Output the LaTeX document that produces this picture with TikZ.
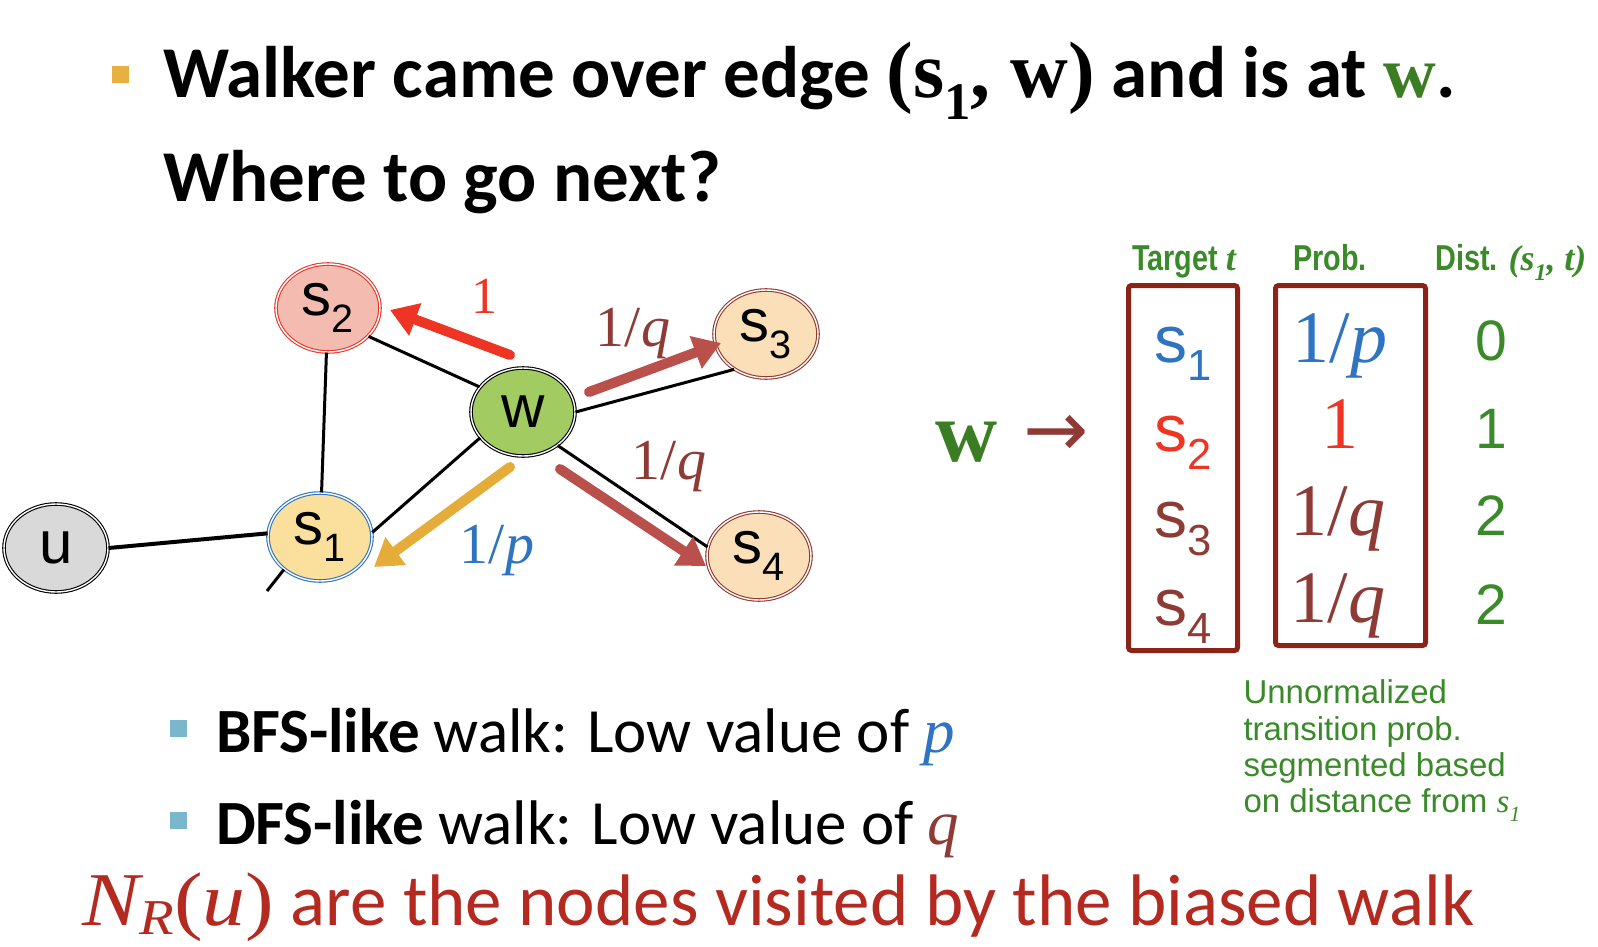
\RequirePackage{fix-cm}
\documentclass[tikz,border=0pt]{standalone}
\usepackage{fontspec}
\usepackage{graphicx}
\setmainfont{Carlito}
\newfontfamily\arialf{Liberation Sans}
\newfontfamily\narrowf[FakeStretch=0.8]{Liberation Sans}
\newfontfamily\serifbf{Liberation Serif}
\newfontfamily\dejavu{DejaVu Sans}
\usetikzlibrary{shapes.geometric,arrows.meta}
\definecolor{tgreen}{HTML}{3A8A2A}
\definecolor{twgreen}{HTML}{3B7D23}
\definecolor{tblue}{HTML}{2E74C0}
\definecolor{tred}{HTML}{EE3524}
\definecolor{tbrown}{HTML}{8E3B36}
\definecolor{boxbrown}{HTML}{8B2317}
\definecolor{arrbrown}{HTML}{B9504B}
\definecolor{arrorange}{HTML}{E6AC3A}
\definecolor{bulor}{HTML}{E8B040}
\definecolor{bulteal}{HTML}{7AB6CC}
\definecolor{darkred}{HTML}{B42A20}
\definecolor{sredfill}{HTML}{F4BCB0}
\definecolor{sredline}{HTML}{E8362A}
\definecolor{wfill}{HTML}{A2CC62}
\definecolor{peach}{HTML}{FADFB8}
\definecolor{peachline}{HTML}{933A32}
\definecolor{yfill}{HTML}{FAE09C}
\definecolor{ufill}{HTML}{D9D9D9}
\newcommand\ssub[1]{\raisebox{-0.28em}{\scalebox{0.66}{#1}}}
\newcommand\msub[1]{\raisebox{-0.13em}{\scalebox{0.66}{#1}}}
\newcommand\frc[1]{{\serifbf 1/\textit{#1}}}
\begin{document}
\begin{tikzpicture}[x=1pt,y=-1pt,
  gnode/.style={ellipse, minimum width=104pt, minimum height=88pt, inner sep=0pt,
    double=white, double distance=1.4pt, line width=1.1pt,
    font=\arialf\fontsize{60}{64}\selectfont},
  gedge/.style={line width=3pt, black},
  carrow/.style={line width=10pt, line cap=round, -{Triangle[length=27pt,width=33pt]}},
  tbox/.style={draw=boxbrown, line width=5pt, rounded corners=3pt, inner sep=0pt},
  bullet/.style={inner sep=0pt, minimum width=17pt, minimum height=17pt},
  tlabel/.style={anchor=base, font=\arialf\fontsize{66}{70}\selectfont},
  tprob/.style={anchor=base, font=\fontsize{74}{80}\selectfont},
  tdist/.style={anchor=base, font=\arialf\fontsize{57}{64}\selectfont, text=tgreen},
  thead/.style={anchor=base, font=\narrowf\bfseries\fontsize{36}{40}\selectfont, text=tgreen},
  note/.style={anchor=base west, font=\arialf\fontsize{33}{37}\selectfont, text=tgreen},
  elabel/.style={font=\fontsize{58}{60}\selectfont}
]
\useasboundingbox (0,0) rectangle (1598,946);

% title
\node[bullet, fill=bulor] (b0) at (120,74) {};
\node[anchor=base west, inner sep=0pt, font=\fontsize{73}{80}\selectfont\bfseries] (title1) at (163,97)
  {Walker came over edge {\serifbf\fontsize{80}{80}\selectfont(s\ssub{1}, w)} and is at {\serifbf\color{twgreen}w}.};
\node[anchor=base west, inner sep=0pt, font=\fontsize{73}{80}\selectfont\bfseries] (title2) at (163,201)
  {Where to go next?};

% graph nodes
\node[gnode, draw=sredline, fill=sredfill] (s2) at (328,308) {s\ssub{2}};
\node[gnode, draw=black, fill=wfill] (w) at (523,412) {w};
\node[gnode, draw=peachline, fill=peach] (s3) at (766,334) {s\ssub{3}};
\node[gnode, draw=peachline, fill=peach] (s4) at (759,556) {s\ssub{4}};
\node[gnode, draw=tblue, fill=yfill] (s1) at (320,537) {s\ssub{1}};
\node[gnode, draw=black, fill=ufill] (u) at (56,548) {u};
\coordinate (stub) at (267,591);

% edges
\draw[gedge] (s2.-35) -- (w.150);
\draw[gedge] (s2) -- (s1);
\draw[gedge] (w.211) -- (s1.5);
\draw[gedge] (w.east) -- (s3.228);
\draw[gedge] (w.-44) -- (s4.170);
\draw[gedge, line width=4pt] (u.east) -- (s1.176);
\draw[gedge] (s1.222) -- (stub);

% colored arrows
\coordinate (ra1) at (510,355); \coordinate (ra2) at (390,310);
\coordinate (ba1) at (589,392); \coordinate (ba2) at (721,343);
\coordinate (oa1) at (510,467); \coordinate (oa2) at (374,567);
\coordinate (da1) at (560,469); \coordinate (da2) at (706,566);
\draw[carrow, tred] (ra1) -- (ra2);
\draw[carrow, arrbrown] (ba1) -- (ba2);
\draw[carrow, arrorange] (oa1) -- (oa2);
\draw[carrow, arrbrown] (da1) -- (da2);

% edge labels
\node[elabel, text=tred, font=\serifbf\fontsize{52}{60}\selectfont] (l1) at (484,296) {1};
\node[elabel, text=tbrown] (lq1) at (633,334) {\frc{q}};
\node[elabel, text=tbrown] (lq2) at (669,467) {\frc{q}};
\node[elabel, text=tblue] (lp) at (497,551) {\frc{p}};

% right side
\node[anchor=base, inner sep=0pt, font=\serifbf\bfseries\fontsize{86}{90}\selectfont, text=twgreen] (wlab) at (967,461) {w};
\node[inner sep=0pt, font=\dejavu\fontsize{78}{80}\selectfont, text=tbrown] (arrow) at (1056,436) {→};

\node[tbox, minimum width=109pt, minimum height=365pt] (box1) at (1183,468) {};
\node[tbox, minimum width=150pt, minimum height=360pt] (box2) at (1350.5,465.5) {};

\node[thead] (hT) at (1184,270) {Target {\serifbf\itshape t}};
\node[thead] (hP) at (1330,270) {Prob.};
\node[thead] (hD) at (1511,270) {Dist. {\serifbf\bfseries\itshape(s\ssub{1}, t)}};

\node[tlabel, text=tblue] (t1) at (1183,362) {s\ssub{1}};
\node[tlabel, text=tred] (t2) at (1183,451) {s\ssub{2}};
\node[tlabel, text=tbrown] (t3) at (1183,537) {s\ssub{3}};
\node[tlabel, text=tbrown] (t4) at (1183,625) {s\ssub{4}};

\node[tprob, text=tblue] (p1) at (1340,362) {\frc{p}};
\node[tprob, text=tred] (p2) at (1340,448) {{\serifbf 1}};
\node[tprob, text=tbrown] (p3) at (1338,535) {\frc{q}};
\node[tprob, text=tbrown] (p4) at (1338,622) {\frc{q}};

\node[tdist] (d1) at (1491,360) {0};
\node[tdist] (d2) at (1491,448) {1};
\node[tdist] (d3) at (1491,535) {2};
\node[tdist] (d4) at (1491,624) {2};

\node[note] (n1) at (1240,703) {Unnormalized};
\node[note] (n2) at (1240,740) {transition prob.};
\node[note] (n3) at (1240,776) {segmented based};
\node[note] (n4) at (1240,812) {on distance from {\serifbf\itshape s\ssub{1}}};

% bottom bullets
\node[bullet, fill=bulteal] (b1) at (178,728) {};
\node[anchor=base west, inner sep=0pt, font=\fontsize{63}{70}\selectfont] (bfs) at (216,752)
  {\textbf{BFS-like} walk: Low value of {\serifbf\itshape\color{tblue}p}};
\node[bullet, fill=bulteal] (b2) at (178,820) {};
\node[anchor=base west, inner sep=0pt, font=\fontsize{63}{70}\selectfont] (dfs) at (216,844)
  {\textbf{DFS-like} walk: Low value of {\serifbf\itshape\color{tbrown}q}};

\node[anchor=base west, inner sep=0pt, font=\fontsize{73}{80}\selectfont, text=darkred] (nr) at (82,925)
  {\scalebox{1.13}[1]{\serifbf\fontsize{76}{80}\selectfont\itshape N\msub{R}\upshape(\itshape u\upshape)} are the nodes visited by the biased walk};
\end{tikzpicture}
\end{document}
